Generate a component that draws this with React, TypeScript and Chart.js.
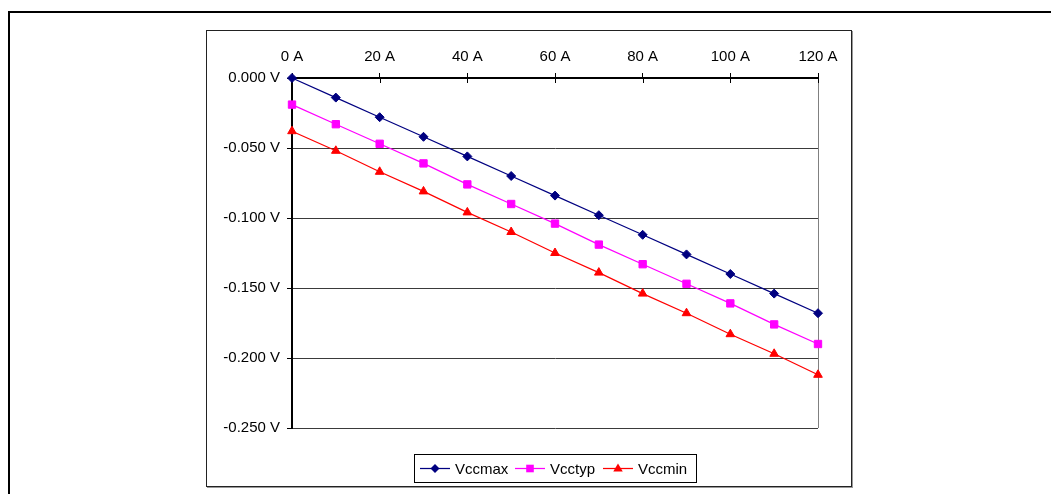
import React, { useEffect, useRef } from "react";
import { Chart, registerables } from "chart.js";

Chart.register(...registerables);

const currents = [0, 10, 20, 30, 40, 50, 60, 70, 80, 90, 100, 110, 120];
const vccmax = [0, -0.014, -0.028, -0.042, -0.056, -0.07, -0.084, -0.098, -0.112, -0.126, -0.14, -0.154, -0.168];
const vcctyp = [-0.019, -0.033, -0.047, -0.061, -0.076, -0.09, -0.104, -0.119, -0.133, -0.147, -0.161, -0.176, -0.19];
const vccmin = [-0.038, -0.052, -0.067, -0.081, -0.096, -0.11, -0.125, -0.139, -0.154, -0.168, -0.183, -0.197, -0.212];
const seriesNames = ["Vccmax", "Vcctyp", "Vccmin"];
const seriesColors = ["#000080", "#FF00FF", "#FF0000"];
const seriesMarkers = ["rectRot", "rect", "triangle"];
const xTickStep = 20;
const yTickStep = 0.05;

const FONT = "'Liberation Sans', Arial, sans-serif";

function drawMarker(ctx: CanvasRenderingContext2D, style: string, x: number, y: number, color: string) {
  ctx.save();
  ctx.fillStyle = color;
  ctx.beginPath();
  if (style === "rectRot") {
    const r = 4.5;
    ctx.moveTo(x, y - r);
    ctx.lineTo(x + r, y);
    ctx.lineTo(x, y + r);
    ctx.lineTo(x - r, y);
    ctx.closePath();
  } else if (style === "rect") {
    const s = 3.8;
    ctx.rect(x - s, y - s, 2 * s, 2 * s);
  } else {
    const r = 5;
    ctx.moveTo(x, y - r);
    ctx.lineTo(x + r * 0.95, y + r * 0.6);
    ctx.lineTo(x - r * 0.95, y + r * 0.6);
    ctx.closePath();
  }
  ctx.fill();
  ctx.restore();
}

const framePlugin = {
  id: "frame",
  beforeDatasetsDraw(chart: any) {
    const { ctx, chartArea } = chart;
    ctx.save();
    ctx.strokeStyle = "#808080";
    ctx.lineWidth = 1;
    ctx.beginPath();
    ctx.moveTo(Math.round(chartArea.right) + 0.5, chartArea.top);
    ctx.lineTo(Math.round(chartArea.right) + 0.5, chartArea.bottom);
    ctx.stroke();
    // inward part of crossing x ticks
    const xs = chart.scales.x;
    ctx.strokeStyle = "#000";
    xs.ticks.forEach((t: any) => {
      const px = Math.round(xs.getPixelForValue(t.value)) + 0.5;
      ctx.beginPath();
      ctx.moveTo(px, chartArea.top);
      ctx.lineTo(px, chartArea.top + 5);
      ctx.stroke();
    });
    ctx.restore();
  },
  afterDraw(chart: any) {
    const { ctx } = chart;
    ctx.save();
    const bx = 414.5, by = 454.5, bw = 282, bh = 28;
    ctx.fillStyle = "#fff";
    ctx.fillRect(bx, by, bw, bh);
    ctx.strokeStyle = "#000";
    ctx.lineWidth = 1;
    ctx.strokeRect(bx, by, bw, bh);
    const cy = 468.5;
    const lineStarts = [420, 515, 603];
    ctx.font = `15px ${FONT}`;
    ctx.textBaseline = "middle";
    ctx.textAlign = "left";
    seriesNames.forEach((name, i) => {
      const x0 = lineStarts[i];
      ctx.strokeStyle = seriesColors[i];
      ctx.lineWidth = 1.25;
      ctx.beginPath();
      ctx.moveTo(x0, cy);
      ctx.lineTo(x0 + 30, cy);
      ctx.stroke();
      drawMarker(ctx, seriesMarkers[i], x0 + 15, cy, seriesColors[i]);
      ctx.fillStyle = "#000";
      ctx.fillText(name, x0 + 35, cy + 1);
    });
    ctx.restore();
  },
};

export default function App() {
  const ref = useRef<HTMLCanvasElement | null>(null);

  useEffect(() => {
    if (!ref.current) return;
    const all = [vccmax, vcctyp, vccmin];
    const chart = new Chart(ref.current, {
      type: "line",
      data: {
        datasets: all.map((vals, i) => ({
          label: seriesNames[i],
          data: vals.map((v, j) => ({ x: currents[j], y: v })),
          borderColor: seriesColors[i],
          backgroundColor: seriesColors[i],
          borderWidth: 1.25,
          pointStyle: seriesMarkers[i] as any,
          pointRadius: i === 1 ? 5.2 : i === 0 ? 4.5 : 5,
          pointBorderWidth: 1,
          pointBorderColor: seriesColors[i],
          pointBackgroundColor: seriesColors[i],
          tension: 0,
          clip: false as any,
        })),
      },
      options: {
        animation: false,
        responsive: false,
        maintainAspectRatio: false,
        events: [],
        layout: { padding: { left: 200, top: 28, right: 233, bottom: 66 } },
        scales: {
          x: {
            type: "linear",
            position: "top",
            min: 0,
            max: 120,
            ticks: {
              stepSize: xTickStep,
              callback: (v: any) => `${v} A`,
              font: { family: FONT, size: 15 },
              color: "#000",
              padding: 7,
              maxRotation: 0,
            },
            grid: { drawOnChartArea: false, tickLength: 5, color: "#000" },
            border: { color: "#000", width: 2 },
            afterFit: (s: any) => {
              s.height = 50;
            },
          },
          y: {
            type: "linear",
            min: -0.25,
            max: 0,
            ticks: {
              stepSize: yTickStep,
              callback: (v: any) => `${Number(v).toFixed(3)} V`,
              font: { family: FONT, size: 15 },
              color: "#000",
              padding: 7,
            },
            grid: { color: "#3a3a3a", tickLength: 5, tickColor: "#000" },
            border: { color: "#000", width: 2 },
            afterFit: (s: any) => {
              s.width = 92;
            },
          },
        },
        plugins: {
          legend: { display: false },
          tooltip: { enabled: false },
        },
      },
      plugins: [framePlugin],
    });
    return () => chart.destroy();
  }, []);

  return (
    <div
      style={{
        position: "absolute",
        left: 0,
        top: 0,
        width: 1051,
        height: 494,
        overflow: "hidden",
        background: "#fff",
      }}
    >
      <div
        style={{
          position: "absolute",
          left: 8,
          top: 11,
          width: 1100,
          height: 520,
          border: "2px solid #000",
          boxSizing: "border-box",
        }}
      />
      <div
        style={{
          position: "absolute",
          left: 206,
          top: 30,
          width: 646,
          height: 457,
          border: "1px solid #222",
          boxShadow: "1px 1px 0 #999",
          boxSizing: "border-box",
        }}
      />
      <canvas
        ref={ref}
        width={1051}
        height={494}
        style={{ position: "absolute", left: 0, top: 0, width: 1051, height: 494 }}
      />
    </div>
  );
}
